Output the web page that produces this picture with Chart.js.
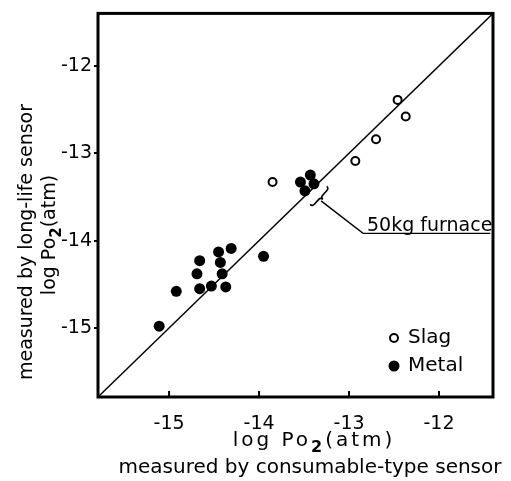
<!DOCTYPE html>
<html>
<head>
<meta charset="utf-8">
<script src="https://cdn.jsdelivr.net/npm/chart.js@4.4.0/dist/chart.umd.min.js"></script>
<style>
    html, body { margin: 0; padding: 0; background: #fff; }
</style>
</head>
<body>
<canvas id="chart" width="511" height="481"></canvas>
<script>
'use strict';

// axis ranges, log Po2 (atm)
const xRange = [-15.79, -11.40];
const yRange = [-15.79, -11.40];
const xTicks = [-15, -14, -13, -12];
const yTicks = [-15, -14, -13, -12];

// slag: consumable-type sensor (x) vs long-life sensor (y)
const slagX = [-13.85, -12.93, -12.70, -12.46, -12.37];
const slagY = [-13.33, -13.09, -12.84, -12.39, -12.58];

// metal
const metalX = [-15.11, -14.92, -14.66, -14.69, -14.66, -14.53, -14.45, -14.43,
    -14.41, -14.37, -14.31, -13.95, -13.54, -13.43, -13.39, -13.49];
const metalY = [-14.98, -14.58, -14.23, -14.38, -14.55, -14.52, -14.13, -14.25,
    -14.38, -14.53, -14.09, -14.18, -13.33, -13.25, -13.35, -13.43];

// 1:1 line
const diagX = [-15.79, -11.40];
const diagY = [-15.79, -11.40];

// "50kg furnace" note: brace ends, leader line, label anchor (data units)
const braceEnds = [[-13.433, -13.586], [-13.248, -13.379]];
const leaderPath = [[-13.311, -13.545], [-12.844, -13.917], [-11.43, -13.917]];
const noteAnchor = [-12.80, -13.885];
const noteText = '50kg furnace';

const FONT = "'DejaVu Sans', 'Liberation Sans', sans-serif";

const toPoints = (xs, ys) => xs.map((x, i) => ({ x: x, y: ys[i] }));

/**
 * Draw "log Po2(atm)" centred on (x, y) with a real subscript 2.
 */
function drawPo2(ctx, x, y, size, spacing) {
    const main = `${size}px ${FONT}`;
    const sub = `bold ${Math.round(size * 0.8)}px ${FONT}`;
    ctx.letterSpacing = spacing + 'px';
    ctx.font = main;
    const w1 = ctx.measureText('log Po').width;
    const w3 = ctx.measureText('(atm)').width;
    ctx.font = sub;
    const w2 = ctx.measureText('2').width;
    let left = x - (w1 + w2 + w3) / 2;
    ctx.textAlign = 'left';
    ctx.textBaseline = 'middle';
    ctx.font = main;
    ctx.fillText('log Po', left, y);
    left += w1;
    ctx.font = sub;
    ctx.fillText('2', left, y + size * 0.35);
    left += w2;
    ctx.font = main;
    ctx.fillText('(atm)', left, y);
    ctx.letterSpacing = '0px';
}

const decorPlugin = {
    id: 'decor',
    afterDatasetsDraw(chart) {
        const { ctx, chartArea: a, scales } = chart;
        const px = (p) => [scales.x.getPixelForValue(p[0]), scales.y.getPixelForValue(p[1])];
        ctx.save();
        ctx.fillStyle = '#000';
        ctx.strokeStyle = '#000';

        // frame
        ctx.lineWidth = 3;
        ctx.strokeRect(a.left, a.top, a.right - a.left, a.bottom - a.top);

        // x ticks point inwards
        ctx.lineWidth = 2;
        xTicks.forEach((v) => {
            const x = scales.x.getPixelForValue(v);
            ctx.beginPath();
            ctx.moveTo(x, a.bottom);
            ctx.lineTo(x, a.bottom - 6);
            ctx.stroke();
        });

        // brace next to the 50kg furnace points
        const p1 = px(braceEnds[0]);
        const p2 = px(braceEnds[1]);
        const len = Math.hypot(p2[0] - p1[0], p2[1] - p1[1]);
        const d = [(p2[0] - p1[0]) / len, (p2[1] - p1[1]) / len];
        const n = [-d[1], d[0]];
        const m = [(p1[0] + p2[0]) / 2, (p1[1] + p2[1]) / 2];
        const at = (p, a1, b1) => [p[0] + n[0] * a1 + d[0] * b1, p[1] + n[1] * a1 + d[1] * b1];
        const h = 3, c = 3;
        ctx.lineWidth = 1.6;
        ctx.beginPath();
        ctx.moveTo(...p1);
        ctx.quadraticCurveTo(...at(p1, h, 0), ...at(p1, h, c));
        ctx.lineTo(...at(m, h, -c));
        ctx.quadraticCurveTo(...at(m, h, 0), ...at(m, 2 * h, 0));
        ctx.quadraticCurveTo(...at(m, h, 0), ...at(m, h, c));
        ctx.lineTo(...at(p2, h, -c));
        ctx.quadraticCurveTo(...at(p2, h, 0), ...p2);
        ctx.stroke();

        // leader line and underline
        ctx.lineWidth = 1.4;
        ctx.beginPath();
        leaderPath.forEach((p, i) => {
            const q = px(p);
            if (i === 0) ctx.moveTo(...q); else ctx.lineTo(...q);
        });
        ctx.stroke();

        const na = px(noteAnchor);
        ctx.font = `19px ${FONT}`;
        ctx.textAlign = 'left';
        ctx.textBaseline = 'alphabetic';
        ctx.fillText(noteText, na[0], na[1]);

        // legend
        const lx = a.right - 99;
        const ly = [a.bottom - 59, a.bottom - 31];
        ctx.lineWidth = 2;
        ctx.beginPath();
        ctx.arc(lx, ly[0], 4, 0, Math.PI * 2);
        ctx.fillStyle = '#fff';
        ctx.fill();
        ctx.stroke();
        ctx.fillStyle = '#000';
        ctx.beginPath();
        ctx.arc(lx, ly[1], 5.5, 0, Math.PI * 2);
        ctx.fill();
        ctx.font = `20px ${FONT}`;
        ctx.textBaseline = 'middle';
        ctx.fillText('Slag', lx + 14, ly[0]);
        ctx.fillText('Metal', lx + 14, ly[1]);

        // x axis title
        drawPo2(ctx, a.left + 216, a.bottom + 44, 20, 3);
        ctx.font = `20px ${FONT}`;
        ctx.textAlign = 'center';
        ctx.textBaseline = 'middle';
        ctx.fillText('measured by consumable-type sensor', a.left + 212, a.bottom + 71);

        // y axis title
        ctx.save();
        ctx.translate(27, a.bottom - 155);
        ctx.rotate(-Math.PI / 2);
        ctx.font = `19px ${FONT}`;
        ctx.textAlign = 'center';
        ctx.textBaseline = 'middle';
        ctx.fillText('measured by long-life sensor', 0, 0);
        ctx.restore();

        ctx.save();
        ctx.translate(50, a.bottom - 162);
        ctx.rotate(-Math.PI / 2);
        drawPo2(ctx, 0, 0, 19, 0);
        ctx.restore();

        ctx.restore();
    }
};

new Chart(document.getElementById('chart'), {
    type: 'scatter',
    data: {
        datasets: [
            {
                label: 'Slag',
                data: toPoints(slagX, slagY),
                pointStyle: 'circle',
                pointRadius: 4,
                pointBorderWidth: 2,
                pointBackgroundColor: '#fff',
                pointBorderColor: '#000',
                order: 1,
            },
            {
                label: 'Metal',
                data: toPoints(metalX, metalY),
                pointStyle: 'circle',
                pointRadius: 5.5,
                pointBorderWidth: 0,
                pointBackgroundColor: '#000',
                pointBorderColor: '#000',
                order: 2,
            },
            {
                type: 'line',
                label: '1:1',
                data: toPoints(diagX, diagY),
                borderColor: '#000',
                borderWidth: 1.4,
                pointRadius: 0,
                fill: false,
                order: 3,
            },
        ],
    },
    options: {
        responsive: false,
        animation: false,
        layout: { padding: { top: 8, right: 18, left: 0, bottom: 0 } },
        plugins: {
            legend: { display: false },
            tooltip: { enabled: false },
        },
        scales: {
            x: {
                type: 'linear',
                min: xRange[0],
                max: xRange[1],
                afterFit: (s) => { s.height = 84; },
                afterBuildTicks: (s) => { s.ticks = xTicks.map((v) => ({ value: v })); },
                grid: { display: false },
                border: { display: false },
                ticks: {
                    color: '#000',
                    font: { family: FONT, size: 19 },
                    padding: 8,
                    maxRotation: 0,
                    callback: (v) => String(v),
                },
            },
            y: {
                type: 'linear',
                min: yRange[0],
                max: yRange[1],
                afterFit: (s) => { s.width = 98; },
                afterBuildTicks: (s) => { s.ticks = yTicks.map((v) => ({ value: v })); },
                grid: {
                    drawOnChartArea: false,
                    drawTicks: true,
                    tickLength: 4,
                    color: '#000',
                    lineWidth: 2,
                },
                border: { display: false },
                ticks: {
                    color: '#000',
                    font: { family: FONT, size: 19 },
                    padding: 2,
                    callback: (v) => String(v),
                },
            },
        },
    },
    plugins: [decorPlugin],
});
</script>
</body>
</html>
